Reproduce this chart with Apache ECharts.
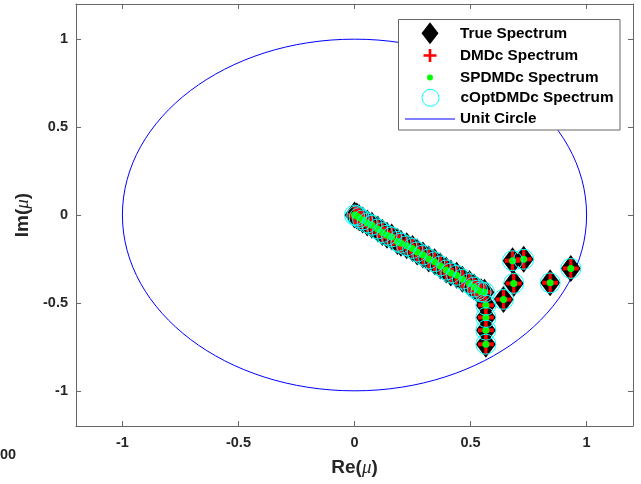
<!DOCTYPE html>
<html>
<head>
<meta charset="utf-8">
<script src="https://cdn.jsdelivr.net/npm/echarts@6/dist/echarts.min.js"></script>
<style>
html,body{margin:0;padding:0;background:#fff;}
#chart{width:641px;height:484px;}
</style>
</head>
<body>
<div id="chart"></div>
<script>
// ---- data ----
var spectrumRe = [0.00, 0.01, 0.02, 0.035, 0.055, 0.075, 0.10, 0.12, 0.14, 0.16, 0.185, 0.20, 0.225, 0.25, 0.27, 0.295, 0.32, 0.345, 0.37, 0.395, 0.415, 0.44, 0.465, 0.495, 0.515, 0.53, 0.545,
                  0.56, 0.566, 0.566, 0.566, 0.566,
                  0.642, 0.686, 0.681, 0.729, 0.843, 0.932];
var spectrumIm = [0.00, -0.005, -0.015, -0.028, -0.045, -0.058, -0.08, -0.10, -0.115, -0.125, -0.15, -0.16, -0.175, -0.19, -0.21, -0.228, -0.25, -0.266, -0.29, -0.313, -0.33, -0.343, -0.365, -0.39, -0.41, -0.427, -0.437,
                  -0.44, -0.513, -0.583, -0.655, -0.735,
                  -0.48, -0.389, -0.26, -0.252, -0.386, -0.304];
var unitCircle = [[0, 0, 1]]; // centre x, centre y, radius
var xTicks = [-1, -0.5, 0, 0.5, 1];
var yTicks = [-1, -0.5, 0, 0.5, 1];
var seriesNames = ['True Spectrum', 'DMDc Spectrum', 'SPDMDc Spectrum', 'cOptDMDc Spectrum', 'Unit Circle'];

function pts(re, im) { return re.map(function (v, i) { return [v, im[i]]; }); }
var points = pts(spectrumRe, spectrumIm);

var plusPath = 'path://M4,0 L6,0 L6,4 L10,4 L10,6 L6,6 L6,10 L4,10 L4,6 L0,6 L0,4 L4,4 Z';
var axisColor = '#666666';
var textColor = '#262626';
var font = 'Liberation Sans, Arial, sans-serif';

function legendItem(name, icon, w, h, top, left, pad, itemStyle) {
  var d = {name: name, icon: icon};
  if (itemStyle) d.itemStyle = itemStyle;
  return {
    data: [d],
    left: left, top: top,
    itemWidth: w, itemHeight: h,
    padding: 0,
    selectedMode: false,
    textStyle: {fontFamily: font, fontWeight: 'bold', fontSize: 15.3, color: '#000', padding: [0, 0, 0, pad]}
  };
}

var nameRich = {
  b: {fontFamily: font, fontWeight: 'bold', fontSize: 19, color: textColor},
  i: {fontFamily: 'Liberation Serif, serif', fontStyle: 'italic', fontSize: 19, color: textColor}
};

var chart = echarts.init(document.getElementById('chart'));
var option = {
  animation: false,
  backgroundColor: '#ffffff',
  grid: {left: 76, right: 8, top: 4, bottom: 58},
  xAxis: [{
    type: 'value', min: -1.2, max: 1.2, position: 'bottom',
    name: '{b|Re(}{i|μ}{b|)}', nameLocation: 'middle', nameGap: 32,
    nameTextStyle: {rich: nameRich},
    axisLine: {show: true, onZero: false, lineStyle: {color: axisColor, width: 1}},
    axisTick: {show: true, inside: true, length: 5, customValues: xTicks, lineStyle: {color: axisColor}},
    axisLabel: {customValues: xTicks, margin: 9, fontFamily: font, fontWeight: 'bold', fontSize: 14.5, color: textColor},
    splitLine: {show: false}
  }, {
    type: 'value', min: -1.2, max: 1.2, position: 'top',
    axisLine: {show: true, onZero: false, lineStyle: {color: axisColor, width: 1}},
    axisTick: {show: true, inside: true, length: 5, customValues: xTicks, lineStyle: {color: axisColor}},
    axisLabel: {show: false},
    splitLine: {show: false}
  }],
  yAxis: [{
    type: 'value', min: -1.2, max: 1.2, position: 'left',
    name: '{b|Im(}{i|μ}{b|)}', nameLocation: 'middle', nameGap: 41, nameRotate: 90,
    nameTextStyle: {rich: nameRich},
    axisLine: {show: true, onZero: false, lineStyle: {color: axisColor, width: 1}},
    axisTick: {show: true, inside: true, length: 5, customValues: yTicks, lineStyle: {color: axisColor}},
    axisLabel: {customValues: yTicks, margin: 8, fontFamily: font, fontWeight: 'bold', fontSize: 14.5, color: textColor},
    splitLine: {show: false}
  }, {
    type: 'value', min: -1.2, max: 1.2, position: 'right',
    axisLine: {show: true, onZero: false, lineStyle: {color: axisColor, width: 1}},
    axisTick: {show: true, inside: true, length: 5, customValues: yTicks, lineStyle: {color: axisColor}},
    axisLabel: {show: false},
    splitLine: {show: false}
  }],
  graphic: [
    {type: 'rect', z: 3, shape: {x: 398.5, y: 19.5, width: 221.5, height: 110.5},
     style: {fill: '#ffffff', stroke: axisColor, lineWidth: 1}},
    {type: 'text', left: 0, top: 447, z: 3,
     style: {text: '00', fontFamily: font, fontWeight: 'bold', fontSize: 14.5, fill: textColor}}
  ],
  legend: [
    legendItem(seriesNames[0], 'diamond', 17, 22, 22.3, 430 - 8.5, 16.5),
    legendItem(seriesNames[1], plusPath, 13, 13, 48, 430 - 6.5, 18.5),
    legendItem(seriesNames[2], 'circle', 6, 6, 70, 430 - 3, 22),
    legendItem(seriesNames[3], 'circle', 17, 17, 88.8, 430 - 8.5, 16.5,
               {color: 'rgba(0,0,0,0)', borderColor: '#00ffff', borderWidth: 1}),
    legendItem(seriesNames[4], 'rect', 50, 1, 111.5, 405, 0, {color: '#0000ff'})
  ],
  series: [
    {name: seriesNames[0], type: 'scatter', data: points, symbol: 'diamond', symbolSize: [20, 27],
     itemStyle: {color: '#000000', opacity: 1}, z: 2},
    {name: seriesNames[1], type: 'scatter', data: points, symbol: plusPath, symbolSize: [16, 20],
     itemStyle: {color: '#ff0000', opacity: 1}, z: 2},
    {name: seriesNames[2], type: 'scatter', data: points, symbol: 'circle', symbolSize: 7,
     itemStyle: {color: '#00ff00', opacity: 1}, z: 2},
    {name: seriesNames[3], type: 'scatter', data: points, symbol: 'circle', symbolSize: 20,
     itemStyle: {color: 'rgba(0,0,0,0)', borderColor: '#00ffff', borderWidth: 1, opacity: 1}, z: 2},
    {name: seriesNames[4], type: 'custom', data: unitCircle, z: 1,
     itemStyle: {color: '#0000ff'},
     encode: {x: 0, y: 1},
     renderItem: function (params, api) {
       var c = api.coord([api.value(0), api.value(1)]);
       var s = api.size([api.value(2), api.value(2)]);
       return {type: 'ellipse', shape: {cx: c[0], cy: c[1], rx: s[0], ry: s[1]},
               style: {fill: null, stroke: '#0000ff', lineWidth: 1}};
     }}
  ]
};
chart.setOption(option);
</script>
</body>
</html>
